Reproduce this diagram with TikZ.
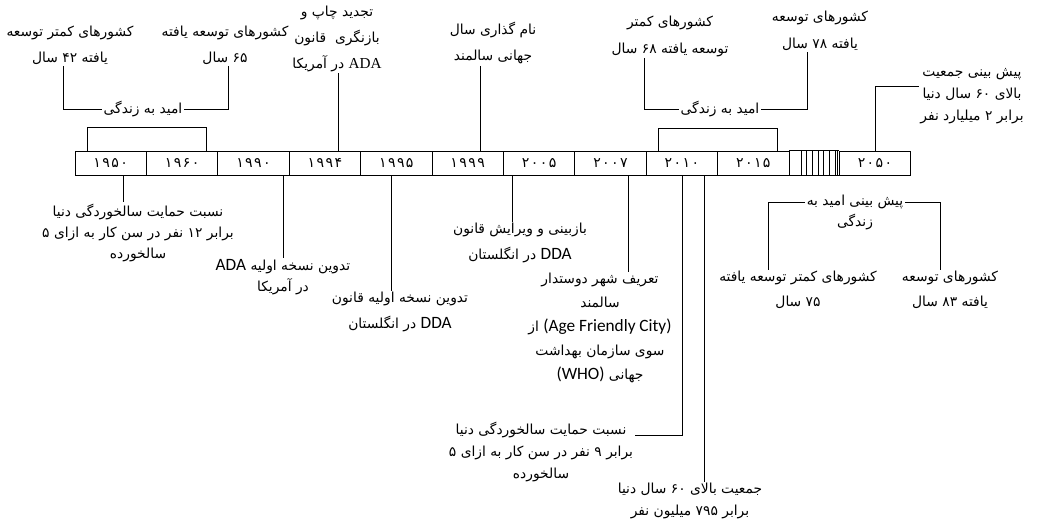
\documentclass[tikz,border=0pt]{standalone}
\usepackage{fontspec}
\usepackage{tikz}
\usetikzlibrary{calc}
\TeXXeTstate=1
\newfontfamily\arabicfont[Script=Arabic]{DejaVu Sans}
\newfontfamily\yearfont[LetterSpace=10]{DejaVu Sans}
\newfontfamily\lat[Scale=1.25]{Carlito}
\newfontfamily\latr[Scale=1.1]{Liberation Serif}
\newcommand\fa[1]{\beginR #1\endR}
\tikzset{
  cell/.style={draw, minimum width=2.142cm, minimum height=0.72cm, inner sep=0pt,
    font=\yearfont\fontsize{12}{14}\selectfont},
  lbl/.style={align=center, inner sep=1pt, font=\arabicfont\fontsize{11.8}{#1}\selectfont},
  lbl/.default=19
}
\begin{document}
\begin{tikzpicture}[x=0.03cm,y=-0.03cm,line width=0.7pt]
\useasboundingbox (0,0) rectangle (1041,524);

\foreach \n/\yr [count=\i from 0] in {1950/۱۹۵۰,1960/۱۹۶۰,1990/۱۹۹۰,1994/۱۹۹۴,1995/۱۹۹۵,1999/۱۹۹۹,2005/۲۰۰۵,2007/۲۰۰۷,2010/۲۰۱۰,2015/۲۰۱۵}
{ \node (c\n) at ({110.7+71.4*\i},163) [cell] {\yr};
}
\node (c2050) at (875,163) [cell] {۲۰۵۰};
\draw (c2015.north east) -- (c2050.north west) (c2015.south east) -- (c2050.south west);
\foreach \x in {801,806.7,812.4,818.1,823.8,829.5,835.2,837.8}
  \draw (c2015.north -| \x,0) -- (c2015.south -| \x,0);

% above the bar
\node (le1) at (143,109) [lbl] {\fa{امید به زندگی}};
\node (L1) at (70,45) [lbl=22] {\fa{کشورهای کمتر توسعه}\\\fa{یافته ۴۲ سال}};
\node (L2) at (225,45) [lbl=22] {\fa{کشورهای توسعه یافته}\\\fa{۶۵ سال}};
\draw (L1.south -| 63,0) |- (le1.west);
\draw (L2.south -| 228,0) |- (le1.east);
\draw (c1950.north -| 87,0) -- (87,127) -| (c1960.north -| 206,0);

\node (t1994) at (337,39) [lbl=22] {\fa{تجدید چاپ و}\\\fa{بازنگری\ \ قانون}\\\fa{\beginL{\latr ADA}\endL{} در آمریکا}};
\draw (t1994.south -| 338,0) -- (c1994.north -| 338,0);
\node (t1999) at (493,43) [lbl=23] {\fa{نام گذاری سال}\\\fa{جهانی سالمند}};
\draw (t1999.south -| 480,0) -- (c1999.north -| 480,0);

\draw (c2010.north -| 658,0) -- (658,128) -| (c2015.north -| 777,0);
\node (le2) at (720,109) [lbl] {\fa{امید به زندگی}};
\node (L3) at (670,36) [lbl=23] {\fa{کشورهای کمتر}\\\fa{توسعه یافته ۶۸ سال}};
\node (L4) at (820,31) [lbl=23] {\fa{کشورهای توسعه}\\\fa{یافته ۷۸ سال}};
\draw (L3.south -| 644,0) |- (le2.west);
\draw (L4.south -| 807,0) |- (le2.east);

\node (t2050) at (972,96) [lbl=19] {\fa{پیش بینی جمعیت}\\\fa{بالای ۶۰ سال دنیا}\\\fa{برابر ۲ میلیارد نفر}};
\draw (c2050.north) |- ([yshift=8pt]t2050.west);

% below the bar
\node (b1950) at (138,233) [lbl=18] {\fa{نسبت حمایت سالخوردگی دنیا}\\\fa{برابر ۱۲ نفر در سن کار به ازای ۵}\\\fa{سالخورده}};
\draw (c1950.south -| 123,0) -- (b1950.north -| 123,0);
\node (b1990) at (283,277) [lbl=18] {\fa{تدوین نسخه اولیه \beginL{\lat ADA}\endL}\\\fa{در آمریکا}};
\draw (c1990.south -| b1990.north) -- (b1990.north);
\node (b1995) at (400,312) [lbl=22] {\fa{تدوین نسخه اولیه قانون}\\\fa{\beginL{\lat DDA}\endL{} در انگلستان}};
\draw (c1995.south -| 391,0) -- (b1995.north -| 391,0);
\node (b2005) at (520,243) [lbl=22] {\fa{بازبینی و ویرایش قانون}\\\fa{\beginL{\lat DDA}\endL{} در انگلستان}};
\draw (c2005.south -| 512,0) -- (b2005.north -| 512,0);
\node (b2007) at (600,328) [lbl=20.4] {\fa{تعریف شهر دوستدار}\\\fa{سالمند}\\\fa{\beginL{\lat (Age Friendly City)}\endL{} از}\\\fa{سوی سازمان بهداشت}\\\fa{جهانی \beginL{\lat (WHO)}\endL}};
\draw (c2007.south -| 628,0) -- (b2007.north -| 628,0);

\node (b2010a) at (541,452) [lbl=18.7] {\fa{نسبت حمایت سالخوردگی دنیا}\\\fa{برابر ۹ نفر در سن کار به ازای ۵}\\\fa{سالخورده}};
\draw (c2010.south -| 682,0) |- ([yshift=14pt]b2010a.east);
\node (b2010b) at (690,501) [lbl=18.7] {\fa{جمعیت بالای ۶۰ سال دنیا}\\\fa{برابر ۷۹۵ میلیون نفر}};
\draw (c2010.south -| 704,0) -- (b2010b.north -| 704,0);

\node (b2050) at (855,212) [lbl=18] {\fa{پیش بینی امید به}\\\fa{زندگی}};
\node (B1) at (798,290) [lbl=21] {\fa{کشورهای کمتر توسعه یافته}\\\fa{۷۵ سال}};
\node (B2) at (950,290) [lbl=21] {\fa{کشورهای توسعه}\\\fa{یافته ۸۳ سال}};
\draw (B1.north -| 768,0) |- ([yshift=8pt]b2050.west);
\draw (B2.north -| 940,0) |- ([yshift=8pt]b2050.east);
\end{tikzpicture}
\end{document}
